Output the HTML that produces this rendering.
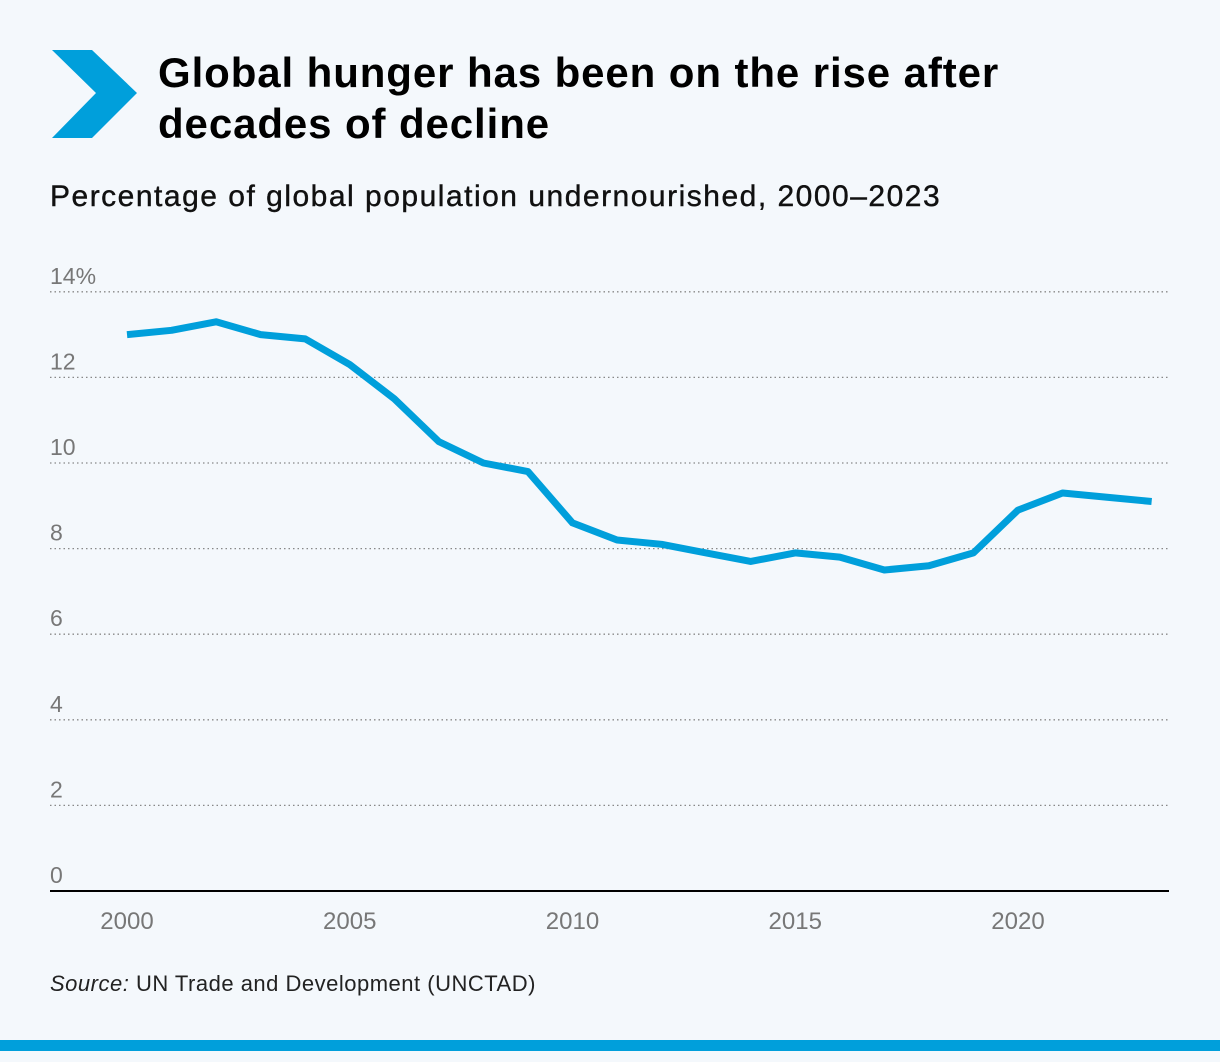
<!DOCTYPE html>
<html><head><meta charset="utf-8"><style>
body{margin:0;width:1220px;height:1062px;background:#f4f8fc;font-family:"Liberation Sans",sans-serif;position:relative;overflow:hidden}
.t{position:absolute;left:158px;top:47px;font-size:42px;font-weight:bold;line-height:51px;color:#000;letter-spacing:0.9px}
.st{position:absolute;left:50px;top:180px;font-size:30px;color:#111;letter-spacing:1.5px;-webkit-text-stroke:0.4px #111}
.src{position:absolute;left:50px;top:971px;font-size:22px;color:#222;letter-spacing:0.5px}
.bar{position:absolute;left:0;top:1040px;width:1220px;height:11px;background:#009fdb}
</style></head><body>
<svg style="position:absolute;left:0;top:0" width="150" height="150"><polygon points="52,50 92,50 137,93 92,138 52,138 96,93" fill="#009fdb"/></svg>
<div class="t">Global hunger has been on the rise after<br>decades of decline</div>
<div class="st">Percentage of global population undernourished, 2000–2023</div>
<svg id="c" style="position:absolute;left:0;top:0" width="1220" height="1000"></svg>
<div class="src"><i>Source:</i> UN Trade and Development (UNCTAD)</div>
<div class="bar"></div>
<script>
const years=[2000,2001,2002,2003,2004,2005,2006,2007,2008,2009,2010,2011,2012,2013,2014,2015,2016,2017,2018,2019,2020,2021,2022,2023];
const values=[13.0,13.1,13.3,13.0,12.9,12.3,11.5,10.5,10.0,9.8,8.6,8.2,8.1,7.9,7.7,7.9,7.8,7.5,7.6,7.9,8.9,9.3,9.2,9.1];
const yTicks=[0,2,4,6,8,10,12,14];
const xTicks=[2000,2005,2010,2015,2020];
const NS="http://www.w3.org/2000/svg";
const svg=document.getElementById('c');
const x=v=>127+(v-2000)*44.55;
const y=v=>891-v*42.8;
function mk(t,a){const e=document.createElementNS(NS,t);for(const k in a)e.setAttribute(k,a[k]);svg.appendChild(e);return e;}
yTicks.forEach(v=>{
  if(v>0){const l=mk('line',{x1:50,x2:1168,y1:y(v),y2:y(v),stroke:'#888','stroke-width':1.3,'stroke-dasharray':'1.5,3'});
  
  }
  const t=mk('text',{x:50,y:y(v)-8,'font-size':23,fill:'#777','font-family':'Liberation Sans'});
  t.textContent=v===14?'14%':v;
  
  
});
const ax=mk('line',{x1:50,x2:1169,y1:891,y2:891,stroke:'#000','stroke-width':2});


xTicks.forEach(v=>{
  const t=mk('text',{x:x(v),y:929,'font-size':24,fill:'#777','text-anchor':'middle','font-family':'Liberation Sans'});
  t.textContent=v;
  
  
});
const p=mk('polyline',{points:years.map((yr,i)=>x(yr)+','+y(values[i])).join(' '),fill:'none',stroke:'#009fdb','stroke-width':7,'stroke-linejoin':'round'});


</script>
</body></html>
